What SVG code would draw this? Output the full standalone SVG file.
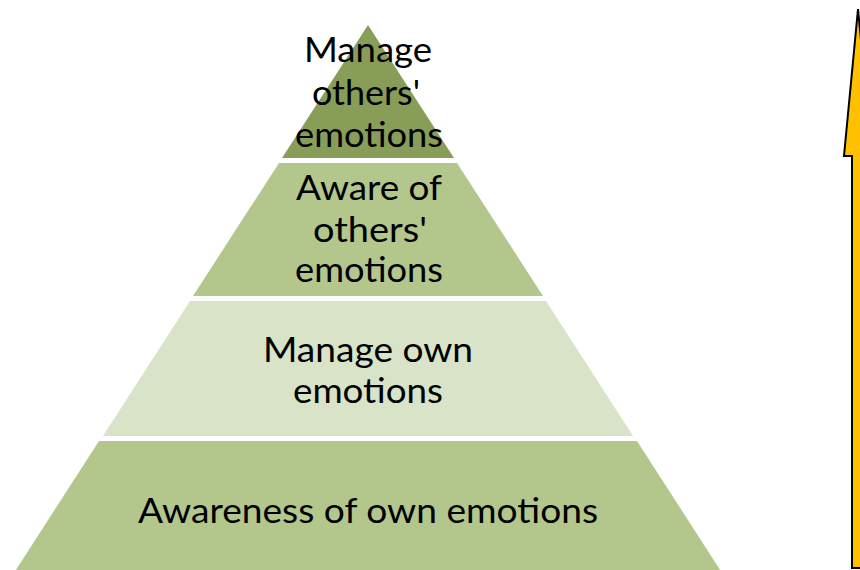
<svg xmlns="http://www.w3.org/2000/svg" width="860" height="570" viewBox="0 0 860 570">
  <style>
    .lbl { font-family: Lato, "Open Sans", "Liberation Sans", sans-serif; font-size: 34px; fill: #000000; text-anchor: middle; }
    .t1 { fill: #889E58; }
    .t2 { fill: #B3C68C; }
    .t3 { fill: #D9E3C7; }
  </style>
  <rect width="860" height="570" fill="#FFFFFF"/>
  <g id="tier-top">
    <polygon class="t1" points="368,25 454,158 282,158"/>
    <text class="lbl" x="368" y="62" textLength="128" lengthAdjust="spacingAndGlyphs">Manage</text>
    <text class="lbl" x="366" y="105" textLength="108" lengthAdjust="spacingAndGlyphs">others'</text>
    <text class="lbl" x="369" y="147" textLength="148" lengthAdjust="spacingAndGlyphs">emotions</text>
  </g>
  <g id="tier-aware-others">
    <polygon class="t2" points="279,163 457,163 543,296 193,296"/>
    <text class="lbl" x="369" y="200" textLength="146" lengthAdjust="spacingAndGlyphs">Aware of</text>
    <text class="lbl" x="370" y="242" textLength="114" lengthAdjust="spacingAndGlyphs">others'</text>
    <text class="lbl" x="369" y="282" textLength="148" lengthAdjust="spacingAndGlyphs">emotions</text>
  </g>
  <g id="tier-manage-own">
    <polygon class="t3" points="190,301 546,301 633,436 103,436"/>
    <text class="lbl" x="368" y="362" textLength="210" lengthAdjust="spacingAndGlyphs">Manage own</text>
    <text class="lbl" x="368" y="403" textLength="150" lengthAdjust="spacingAndGlyphs">emotions</text>
  </g>
  <g id="tier-awareness-own">
    <polygon class="t2" points="99,441 637,441 724,576 12,576"/>
    <text class="lbl" x="368" y="523" textLength="460" lengthAdjust="spacingAndGlyphs">Awareness of own emotions</text>
  </g>
  <g id="connectors">
    <polygon points="858,9 872,156 864,156 864,568 852,568 852,156 844,156" fill="#FFC000" stroke="#000000" stroke-width="2" stroke-linejoin="miter"/>
  </g>
</svg>
